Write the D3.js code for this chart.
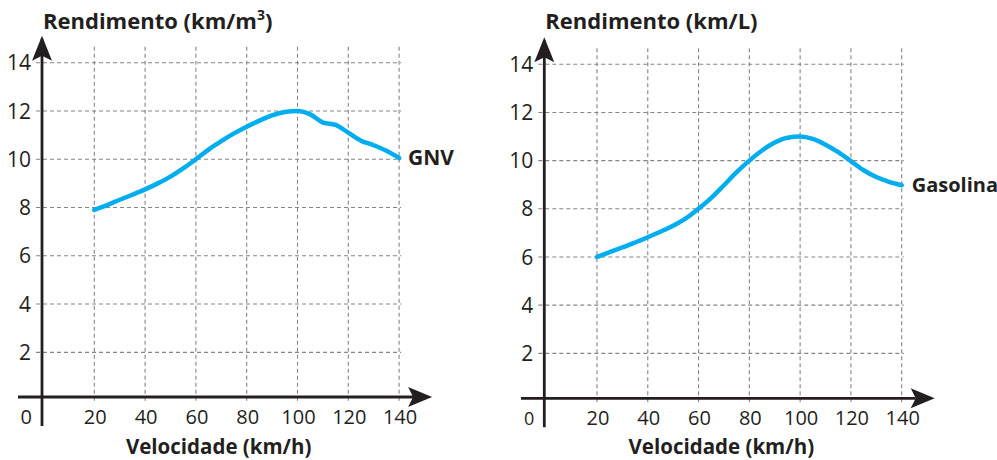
<!DOCTYPE html>
<html>
<head>
<meta charset="utf-8">
<script src="https://cdn.jsdelivr.net/npm/d3@7"></script>
<style>
  html, body { margin: 0; padding: 0; background: #fff; }
  svg { display: block; }
  text { font-family: "Open Sans", "Noto Sans", sans-serif; fill: #231f20; }
</style>
</head>
<body>
<svg id="chart" width="997" height="460"></svg>
<script>
// Fuel economy vs speed: natural gas (GNV) and gasoline
const gnvSpeed = [20, 25, 30, 35, 40, 45, 50, 55, 60, 65, 70, 75, 80, 85, 90, 95, 100, 105, 110, 115, 120, 125, 130, 135, 140];
const gnvYield = [7.9, 8.1, 8.32, 8.53, 8.75, 9.0, 9.28, 9.62, 10.0, 10.4, 10.75, 11.07, 11.35, 11.6, 11.82, 11.96, 12.0, 11.86, 11.52, 11.42, 11.1, 10.77, 10.58, 10.35, 10.05];

const gasSpeed = [20, 25, 30, 35, 40, 45, 50, 55, 60, 65, 70, 75, 80, 85, 90, 95, 100, 105, 110, 115, 120, 125, 130, 135, 140];
const gasYield = [6.0, 6.2, 6.4, 6.6, 6.82, 7.05, 7.3, 7.6, 8.0, 8.45, 8.98, 9.52, 10.0, 10.42, 10.75, 10.95, 11.0, 10.9, 10.66, 10.35, 9.98, 9.6, 9.32, 9.12, 8.98];

const xTicks = [20, 40, 60, 80, 100, 120, 140];
const yTicks = [2, 4, 6, 8, 10, 12, 14];
const xTitle = "Velocidade (km/h)";

const panels = [
  { speed: gnvSpeed, yield: gnvYield, label: "GNV", title: "Rendimento (km/m", sup: "3", titleEnd: ")",
    x0: 43.5, x140: 399.1, y0: 400.6, y14: 62.7, axisX: 42, axisY: 397, axisLeft: 18,
    labelDx: 9, labelDy: 7, labelSize: 21, zeroSize: 20 },
  { speed: gasSpeed, yield: gasYield, label: "Gasolina", title: "Rendimento (km/L)", sup: null, titleEnd: "",
    x0: 546.2, x140: 901.7, y0: 401.5, y14: 64.3, axisX: 544.3, axisY: 398.3, axisLeft: 521,
    labelDx: 10, labelDy: 7, labelSize: 20, zeroSize: 18 }
];

const svg = d3.select("#chart");
const ink = "#231f20";
const curveColor = "#00aeef";

panels.forEach(p => {
  const x = d3.scaleLinear().domain([0, 140]).range([p.x0, p.x140]);
  const y = d3.scaleLinear().domain([0, 14]).range([p.y0, p.y14]);
  const g = svg.append("g");
  const gridTop = y(14) - 16;
  const gridRight = x(140) + 2;

  // dashed grid
  g.append("g").selectAll("line").data(yTicks).join("line")
    .attr("x1", p.axisX - 6).attr("x2", gridRight)
    .attr("y1", d => y(d)).attr("y2", d => y(d))
    .attr("stroke", "#858585").attr("stroke-width", 1.1).attr("stroke-dasharray", "4,3");
  g.append("g").selectAll("line").data(xTicks).join("line")
    .attr("x1", d => x(d)).attr("x2", d => x(d))
    .attr("y1", gridTop).attr("y2", p.axisY + 5)
    .attr("stroke", "#858585").attr("stroke-width", 1.1).attr("stroke-dasharray", "4,3");

  // axes with arrowheads
  g.append("line").attr("x1", p.axisX).attr("x2", p.axisX)
    .attr("y1", p.axisY + 29).attr("y2", gridTop - 8)
    .attr("stroke", ink).attr("stroke-width", 2.8);
  g.append("line").attr("x1", p.axisLeft).attr("x2", x(140) + 14)
    .attr("y1", p.axisY).attr("y2", p.axisY)
    .attr("stroke", ink).attr("stroke-width", 2.8);

  const tipY = gridTop - 11;
  g.append("path")
    .attr("d", `M${p.axisX},${tipY} L${p.axisX + 10},${tipY + 25} L${p.axisX},${tipY + 20} L${p.axisX - 10},${tipY + 25} Z`)
    .attr("fill", ink);
  const tipX = x(140) + 33;
  g.append("path")
    .attr("d", `M${tipX},${p.axisY} L${tipX - 24},${p.axisY + 10} L${tipX - 19},${p.axisY} L${tipX - 24},${p.axisY - 10} Z`)
    .attr("fill", ink);

  // tick labels
  g.append("g").selectAll("text").data(yTicks).join("text")
    .attr("x", p.axisX - 11).attr("y", d => y(d)).attr("dy", "0.36em")
    .attr("text-anchor", "end").attr("font-size", 21).text(d => d);
  g.append("g").selectAll("text").data(xTicks).join("text")
    .attr("x", d => x(d) + 1).attr("y", p.axisY + 27)
    .attr("text-anchor", "middle").attr("font-size", 20).text(d => d);
  g.append("text").attr("x", p.axisX - 10).attr("y", p.axisY + 27)
    .attr("text-anchor", "end").attr("font-size", p.zeroSize).text("0");

  // titles
  const t = g.append("text").attr("x", p.axisX + 1).attr("y", 29)
    .attr("font-size", 22).attr("font-weight", "bold");
  t.append("tspan").text(p.title);
  if (p.sup) {
    t.append("tspan").attr("dy", -9).attr("font-size", 14).text(p.sup);
    t.append("tspan").attr("dy", 9).text(p.titleEnd);
  }
  g.append("text").attr("x", (x(20) + x(140)) / 2 - 28).attr("y", 453.5)
    .attr("text-anchor", "middle").attr("font-size", 20.5).attr("font-weight", "bold").text(xTitle);

  // curve
  const line = d3.line()
    .x((d, i) => x(p.speed[i]))
    .y(d => y(d))
    .curve(d3.curveMonotoneX);
  g.append("path").datum(p.yield)
    .attr("d", line)
    .attr("fill", "none").attr("stroke", curveColor)
    .attr("stroke-width", 4.5).attr("stroke-linecap", "round");

  const last = p.yield.length - 1;
  g.append("text")
    .attr("x", x(p.speed[last]) + p.labelDx)
    .attr("y", y(p.yield[last]) + p.labelDy)
    .attr("font-size", p.labelSize).attr("font-weight", "bold").text(p.label);
});
</script>
</body>
</html>
